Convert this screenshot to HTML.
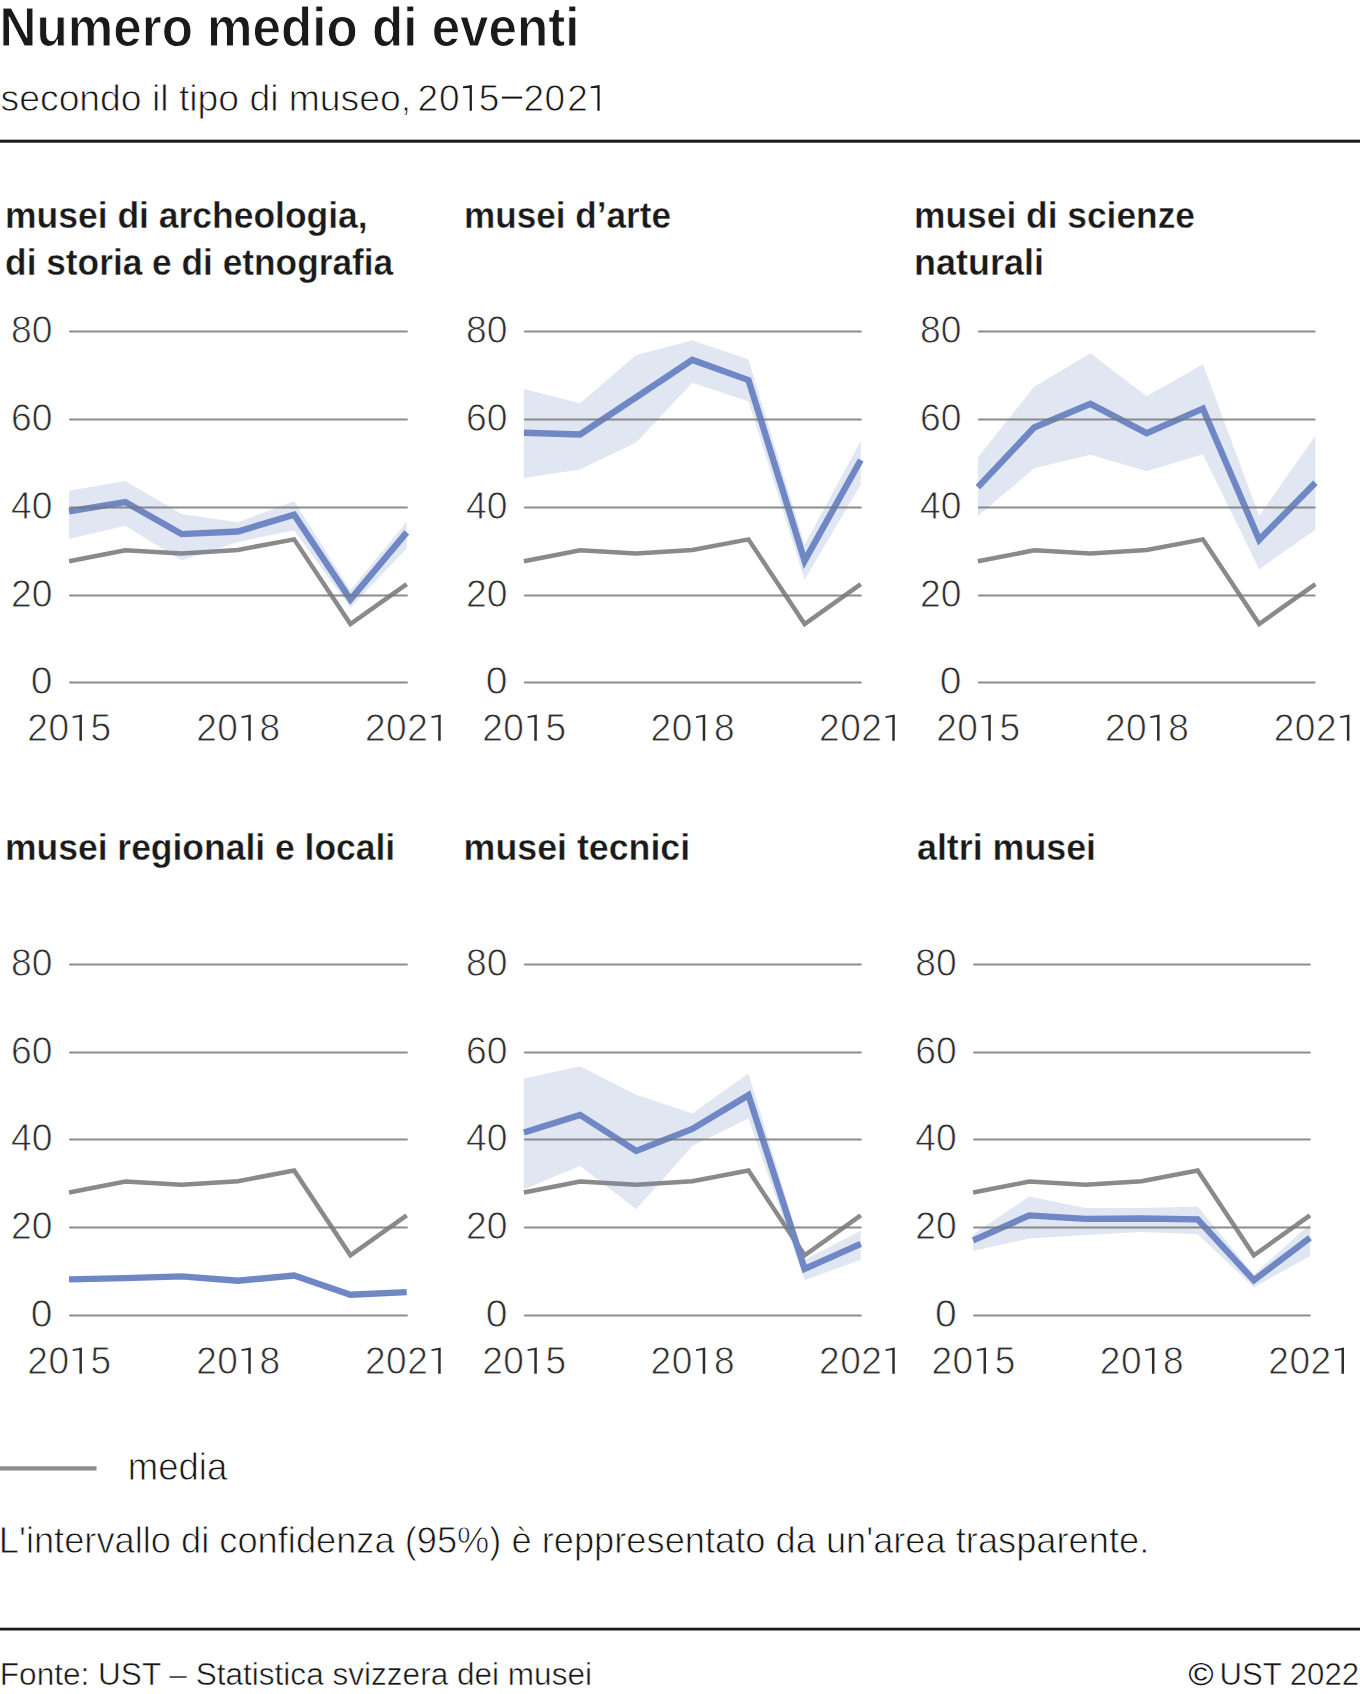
<!DOCTYPE html><html><head><meta charset="utf-8"><title>Numero medio di eventi</title>
<style>html,body{margin:0;padding:0;background:#fff;}svg{display:block;}text{font-family:"Liberation Sans",sans-serif;}</style></head><body>
<svg width="1360" height="1694" viewBox="0 0 1360 1694">
<rect width="1360" height="1694" fill="#fff"/>
<text x="-0.4" y="46.3" font-size="56.0" font-weight="bold" fill="#1a1a1a" text-anchor="start" stroke="#fff" stroke-width="1.00" textLength="579.9" lengthAdjust="spacingAndGlyphs">Numero medio di eventi</text>
<text x="0.6" y="110.6" font-size="36.0" font-weight="normal" fill="#151515" text-anchor="start" stroke="#fff" stroke-width="0.80" textLength="410.5" lengthAdjust="spacingAndGlyphs">secondo il tipo di museo,</text>
<text x="427.9" y="110.6" font-size="37.0" font-weight="normal" fill="#151515" text-anchor="middle" stroke="#fff" stroke-width="0.80">2</text>
<text x="449.4" y="110.6" font-size="37.0" font-weight="normal" fill="#151515" text-anchor="middle" stroke="#fff" stroke-width="0.80">0</text>
<text x="489.0" y="110.6" font-size="37.0" font-weight="normal" fill="#151515" text-anchor="middle" stroke="#fff" stroke-width="0.80">5</text>
<text x="533.9" y="110.6" font-size="37.0" font-weight="normal" fill="#151515" text-anchor="middle" stroke="#fff" stroke-width="0.80">2</text>
<text x="554.9" y="110.6" font-size="37.0" font-weight="normal" fill="#151515" text-anchor="middle" stroke="#fff" stroke-width="0.80">0</text>
<text x="577.6" y="110.6" font-size="37.0" font-weight="normal" fill="#151515" text-anchor="middle" stroke="#fff" stroke-width="0.80">2</text>
<rect x="501.9" y="96.6" width="20.3" height="2.0" fill="#151515"/>
<path d="M471.85 84.95 L471.85 110.85 L469.65 110.85 L469.65 87.65 L462.95 88.25 L462.95 86.55 Z" fill="#151515"/>
<path d="M599.60 84.95 L599.60 110.85 L597.40 110.85 L597.40 87.65 L590.70 88.25 L590.70 86.55 Z" fill="#151515"/>
<rect x="0" y="139.7" width="1360" height="3" fill="#1a1a1a"/>
<text x="5.1" y="227.6" font-size="36.0" font-weight="bold" fill="#1a1a1a" text-anchor="start" stroke="#fff" stroke-width="0.35" textLength="362.6" lengthAdjust="spacingAndGlyphs">musei di archeologia,</text>
<text x="5.1" y="274.7" font-size="36.0" font-weight="bold" fill="#1a1a1a" text-anchor="start" stroke="#fff" stroke-width="0.35" textLength="388.1" lengthAdjust="spacingAndGlyphs">di storia e di etnografia</text>
<text x="464.1" y="227.6" font-size="36.0" font-weight="bold" fill="#1a1a1a" text-anchor="start" stroke="#fff" stroke-width="0.35" textLength="206.9" lengthAdjust="spacingAndGlyphs">musei d’arte</text>
<text x="914.1" y="227.6" font-size="36.0" font-weight="bold" fill="#1a1a1a" text-anchor="start" stroke="#fff" stroke-width="0.35" textLength="280.9" lengthAdjust="spacingAndGlyphs">musei di scienze</text>
<text x="914.1" y="274.7" font-size="36.0" font-weight="bold" fill="#1a1a1a" text-anchor="start" stroke="#fff" stroke-width="0.35" textLength="129.9" lengthAdjust="spacingAndGlyphs">naturali</text>
<text x="5.0" y="859.8" font-size="36.0" font-weight="bold" fill="#1a1a1a" text-anchor="start" stroke="#fff" stroke-width="0.35" textLength="390.2" lengthAdjust="spacingAndGlyphs">musei regionali e locali</text>
<text x="463.6" y="859.8" font-size="36.0" font-weight="bold" fill="#1a1a1a" text-anchor="start" stroke="#fff" stroke-width="0.35" textLength="226.6" lengthAdjust="spacingAndGlyphs">musei tecnici</text>
<text x="917.0" y="859.8" font-size="36.0" font-weight="bold" fill="#1a1a1a" text-anchor="start" stroke="#fff" stroke-width="0.35" textLength="179.0" lengthAdjust="spacingAndGlyphs">altri musei</text>
<text x="52.5" y="694.3" font-size="39.0" font-weight="normal" fill="#2e2e2e" text-anchor="end" stroke="#fff" stroke-width="0.80">0</text>
<text x="52.5" y="607.3" font-size="39.0" font-weight="normal" fill="#2e2e2e" text-anchor="end" stroke="#fff" stroke-width="0.80" textLength="41.4" lengthAdjust="spacingAndGlyphs">20</text>
<text x="52.5" y="519.3" font-size="39.0" font-weight="normal" fill="#2e2e2e" text-anchor="end" stroke="#fff" stroke-width="0.80" textLength="41.4" lengthAdjust="spacingAndGlyphs">40</text>
<text x="52.5" y="431.3" font-size="39.0" font-weight="normal" fill="#2e2e2e" text-anchor="end" stroke="#fff" stroke-width="0.80" textLength="41.4" lengthAdjust="spacingAndGlyphs">60</text>
<text x="52.5" y="343.3" font-size="39.0" font-weight="normal" fill="#2e2e2e" text-anchor="end" stroke="#fff" stroke-width="0.80" textLength="41.4" lengthAdjust="spacingAndGlyphs">80</text>
<text x="37.6" y="740.8" font-size="39.0" font-weight="normal" fill="#2e2e2e" text-anchor="middle" stroke="#fff" stroke-width="0.80" textLength="20.6" lengthAdjust="spacingAndGlyphs">2</text>
<text x="58.7" y="740.8" font-size="39.0" font-weight="normal" fill="#2e2e2e" text-anchor="middle" stroke="#fff" stroke-width="0.80" textLength="20.6" lengthAdjust="spacingAndGlyphs">0</text>
<path d="M81.94 714.40 L81.94 740.80 L79.44 740.80 L79.44 716.90 L72.74 717.90 L72.74 716.20 Z" fill="#2e2e2e"/>
<text x="100.9" y="740.8" font-size="39.0" font-weight="normal" fill="#2e2e2e" text-anchor="middle" stroke="#fff" stroke-width="0.80" textLength="20.6" lengthAdjust="spacingAndGlyphs">5</text>
<text x="206.5" y="740.8" font-size="39.0" font-weight="normal" fill="#2e2e2e" text-anchor="middle" stroke="#fff" stroke-width="0.80" textLength="20.6" lengthAdjust="spacingAndGlyphs">2</text>
<text x="227.6" y="740.8" font-size="39.0" font-weight="normal" fill="#2e2e2e" text-anchor="middle" stroke="#fff" stroke-width="0.80" textLength="20.6" lengthAdjust="spacingAndGlyphs">0</text>
<path d="M250.77 714.40 L250.77 740.80 L248.27 740.80 L248.27 716.90 L241.57 717.90 L241.57 716.20 Z" fill="#2e2e2e"/>
<text x="269.8" y="740.8" font-size="39.0" font-weight="normal" fill="#2e2e2e" text-anchor="middle" stroke="#fff" stroke-width="0.80" textLength="20.6" lengthAdjust="spacingAndGlyphs">8</text>
<text x="375.3" y="740.8" font-size="39.0" font-weight="normal" fill="#2e2e2e" text-anchor="middle" stroke="#fff" stroke-width="0.80" textLength="20.6" lengthAdjust="spacingAndGlyphs">2</text>
<text x="396.4" y="740.8" font-size="39.0" font-weight="normal" fill="#2e2e2e" text-anchor="middle" stroke="#fff" stroke-width="0.80" textLength="20.6" lengthAdjust="spacingAndGlyphs">0</text>
<text x="417.5" y="740.8" font-size="39.0" font-weight="normal" fill="#2e2e2e" text-anchor="middle" stroke="#fff" stroke-width="0.80" textLength="20.6" lengthAdjust="spacingAndGlyphs">2</text>
<path d="M440.70 714.40 L440.70 740.80 L438.20 740.80 L438.20 716.90 L431.50 717.90 L431.50 716.20 Z" fill="#2e2e2e"/>
<polyline points="69.04,561.30 125.32,550.34 181.59,553.41 237.87,549.90 294.15,539.37 350.42,624.05 406.70,584.12" fill="none" stroke="#8a8a8a" stroke-width="4.5" stroke-linejoin="miter"/>
<polygon points="69.04,490.67 125.32,481.01 181.59,513.92 237.87,522.26 294.15,501.20 350.42,590.26 406.70,521.82 406.70,548.58 350.42,607.81 294.15,530.15 237.87,542.00 181.59,560.43 125.32,525.77 69.04,538.93" fill="#6f87c5" fill-opacity="0.21"/>
<polyline points="69.04,511.29 125.32,502.07 181.59,534.10 237.87,531.47 294.15,514.80 350.42,599.48 406.70,532.35" fill="none" stroke="#6f87c5" stroke-width="6.4" stroke-linejoin="miter"/>
<line x1="70.04" y1="682.50" x2="406.90" y2="682.50" stroke="#787878" stroke-opacity="0.85" stroke-width="2" stroke-linecap="round"/>
<line x1="70.04" y1="595.50" x2="406.90" y2="595.50" stroke="#787878" stroke-opacity="0.85" stroke-width="2" stroke-linecap="round"/>
<line x1="70.04" y1="507.50" x2="406.90" y2="507.50" stroke="#787878" stroke-opacity="0.85" stroke-width="2" stroke-linecap="round"/>
<line x1="70.04" y1="419.50" x2="406.90" y2="419.50" stroke="#787878" stroke-opacity="0.85" stroke-width="2" stroke-linecap="round"/>
<line x1="70.04" y1="331.50" x2="406.90" y2="331.50" stroke="#787878" stroke-opacity="0.85" stroke-width="2" stroke-linecap="round"/>
<text x="507.4" y="694.3" font-size="39.0" font-weight="normal" fill="#2e2e2e" text-anchor="end" stroke="#fff" stroke-width="0.80">0</text>
<text x="507.4" y="607.3" font-size="39.0" font-weight="normal" fill="#2e2e2e" text-anchor="end" stroke="#fff" stroke-width="0.80" textLength="41.4" lengthAdjust="spacingAndGlyphs">20</text>
<text x="507.4" y="519.3" font-size="39.0" font-weight="normal" fill="#2e2e2e" text-anchor="end" stroke="#fff" stroke-width="0.80" textLength="41.4" lengthAdjust="spacingAndGlyphs">40</text>
<text x="507.4" y="431.3" font-size="39.0" font-weight="normal" fill="#2e2e2e" text-anchor="end" stroke="#fff" stroke-width="0.80" textLength="41.4" lengthAdjust="spacingAndGlyphs">60</text>
<text x="507.4" y="343.3" font-size="39.0" font-weight="normal" fill="#2e2e2e" text-anchor="end" stroke="#fff" stroke-width="0.80" textLength="41.4" lengthAdjust="spacingAndGlyphs">80</text>
<text x="492.5" y="740.8" font-size="39.0" font-weight="normal" fill="#2e2e2e" text-anchor="middle" stroke="#fff" stroke-width="0.80" textLength="20.6" lengthAdjust="spacingAndGlyphs">2</text>
<text x="513.6" y="740.8" font-size="39.0" font-weight="normal" fill="#2e2e2e" text-anchor="middle" stroke="#fff" stroke-width="0.80" textLength="20.6" lengthAdjust="spacingAndGlyphs">0</text>
<path d="M536.80 714.40 L536.80 740.80 L534.30 740.80 L534.30 716.90 L527.60 717.90 L527.60 716.20 Z" fill="#2e2e2e"/>
<text x="555.8" y="740.8" font-size="39.0" font-weight="normal" fill="#2e2e2e" text-anchor="middle" stroke="#fff" stroke-width="0.80" textLength="20.6" lengthAdjust="spacingAndGlyphs">5</text>
<text x="660.9" y="740.8" font-size="39.0" font-weight="normal" fill="#2e2e2e" text-anchor="middle" stroke="#fff" stroke-width="0.80" textLength="20.6" lengthAdjust="spacingAndGlyphs">2</text>
<text x="682.0" y="740.8" font-size="39.0" font-weight="normal" fill="#2e2e2e" text-anchor="middle" stroke="#fff" stroke-width="0.80" textLength="20.6" lengthAdjust="spacingAndGlyphs">0</text>
<path d="M705.24 714.40 L705.24 740.80 L702.74 740.80 L702.74 716.90 L696.03 717.90 L696.03 716.20 Z" fill="#2e2e2e"/>
<text x="724.2" y="740.8" font-size="39.0" font-weight="normal" fill="#2e2e2e" text-anchor="middle" stroke="#fff" stroke-width="0.80" textLength="20.6" lengthAdjust="spacingAndGlyphs">8</text>
<text x="829.4" y="740.8" font-size="39.0" font-weight="normal" fill="#2e2e2e" text-anchor="middle" stroke="#fff" stroke-width="0.80" textLength="20.6" lengthAdjust="spacingAndGlyphs">2</text>
<text x="850.5" y="740.8" font-size="39.0" font-weight="normal" fill="#2e2e2e" text-anchor="middle" stroke="#fff" stroke-width="0.80" textLength="20.6" lengthAdjust="spacingAndGlyphs">0</text>
<text x="871.6" y="740.8" font-size="39.0" font-weight="normal" fill="#2e2e2e" text-anchor="middle" stroke="#fff" stroke-width="0.80" textLength="20.6" lengthAdjust="spacingAndGlyphs">2</text>
<path d="M894.77 714.40 L894.77 740.80 L892.27 740.80 L892.27 716.90 L885.57 717.90 L885.57 716.20 Z" fill="#2e2e2e"/>
<polyline points="523.90,561.30 580.04,550.34 636.19,553.41 692.34,549.90 748.48,539.37 804.62,624.05 860.77,584.12" fill="none" stroke="#8a8a8a" stroke-width="4.5" stroke-linejoin="miter"/>
<polygon points="523.90,388.88 580.04,403.35 636.19,355.09 692.34,340.17 748.48,359.48 804.62,544.63 860.77,441.09 860.77,484.52 804.62,579.73 748.48,401.16 692.34,382.73 636.19,442.40 580.04,469.61 523.90,477.94" fill="#6f87c5" fill-opacity="0.21"/>
<polyline points="523.90,432.75 580.04,434.51 636.19,397.21 692.34,359.92 748.48,380.10 804.62,560.87 860.77,459.95" fill="none" stroke="#6f87c5" stroke-width="6.4" stroke-linejoin="miter"/>
<line x1="524.90" y1="682.50" x2="860.84" y2="682.50" stroke="#787878" stroke-opacity="0.85" stroke-width="2" stroke-linecap="round"/>
<line x1="524.90" y1="595.50" x2="860.84" y2="595.50" stroke="#787878" stroke-opacity="0.85" stroke-width="2" stroke-linecap="round"/>
<line x1="524.90" y1="507.50" x2="860.84" y2="507.50" stroke="#787878" stroke-opacity="0.85" stroke-width="2" stroke-linecap="round"/>
<line x1="524.90" y1="419.50" x2="860.84" y2="419.50" stroke="#787878" stroke-opacity="0.85" stroke-width="2" stroke-linecap="round"/>
<line x1="524.90" y1="331.50" x2="860.84" y2="331.50" stroke="#787878" stroke-opacity="0.85" stroke-width="2" stroke-linecap="round"/>
<text x="961.4" y="694.3" font-size="39.0" font-weight="normal" fill="#2e2e2e" text-anchor="end" stroke="#fff" stroke-width="0.80">0</text>
<text x="961.4" y="607.3" font-size="39.0" font-weight="normal" fill="#2e2e2e" text-anchor="end" stroke="#fff" stroke-width="0.80" textLength="41.4" lengthAdjust="spacingAndGlyphs">20</text>
<text x="961.4" y="519.3" font-size="39.0" font-weight="normal" fill="#2e2e2e" text-anchor="end" stroke="#fff" stroke-width="0.80" textLength="41.4" lengthAdjust="spacingAndGlyphs">40</text>
<text x="961.4" y="431.3" font-size="39.0" font-weight="normal" fill="#2e2e2e" text-anchor="end" stroke="#fff" stroke-width="0.80" textLength="41.4" lengthAdjust="spacingAndGlyphs">60</text>
<text x="961.4" y="343.3" font-size="39.0" font-weight="normal" fill="#2e2e2e" text-anchor="end" stroke="#fff" stroke-width="0.80" textLength="41.4" lengthAdjust="spacingAndGlyphs">80</text>
<text x="946.5" y="740.8" font-size="39.0" font-weight="normal" fill="#2e2e2e" text-anchor="middle" stroke="#fff" stroke-width="0.80" textLength="20.6" lengthAdjust="spacingAndGlyphs">2</text>
<text x="967.6" y="740.8" font-size="39.0" font-weight="normal" fill="#2e2e2e" text-anchor="middle" stroke="#fff" stroke-width="0.80" textLength="20.6" lengthAdjust="spacingAndGlyphs">0</text>
<path d="M990.80 714.40 L990.80 740.80 L988.30 740.80 L988.30 716.90 L981.60 717.90 L981.60 716.20 Z" fill="#2e2e2e"/>
<text x="1009.8" y="740.8" font-size="39.0" font-weight="normal" fill="#2e2e2e" text-anchor="middle" stroke="#fff" stroke-width="0.80" textLength="20.6" lengthAdjust="spacingAndGlyphs">5</text>
<text x="1115.2" y="740.8" font-size="39.0" font-weight="normal" fill="#2e2e2e" text-anchor="middle" stroke="#fff" stroke-width="0.80" textLength="20.6" lengthAdjust="spacingAndGlyphs">2</text>
<text x="1136.3" y="740.8" font-size="39.0" font-weight="normal" fill="#2e2e2e" text-anchor="middle" stroke="#fff" stroke-width="0.80" textLength="20.6" lengthAdjust="spacingAndGlyphs">0</text>
<path d="M1159.55 714.40 L1159.55 740.80 L1157.05 740.80 L1157.05 716.90 L1150.35 717.90 L1150.35 716.20 Z" fill="#2e2e2e"/>
<text x="1178.5" y="740.8" font-size="39.0" font-weight="normal" fill="#2e2e2e" text-anchor="middle" stroke="#fff" stroke-width="0.80" textLength="20.6" lengthAdjust="spacingAndGlyphs">8</text>
<text x="1284.0" y="740.8" font-size="39.0" font-weight="normal" fill="#2e2e2e" text-anchor="middle" stroke="#fff" stroke-width="0.80" textLength="20.6" lengthAdjust="spacingAndGlyphs">2</text>
<text x="1305.1" y="740.8" font-size="39.0" font-weight="normal" fill="#2e2e2e" text-anchor="middle" stroke="#fff" stroke-width="0.80" textLength="20.6" lengthAdjust="spacingAndGlyphs">0</text>
<text x="1326.2" y="740.8" font-size="39.0" font-weight="normal" fill="#2e2e2e" text-anchor="middle" stroke="#fff" stroke-width="0.80" textLength="20.6" lengthAdjust="spacingAndGlyphs">2</text>
<path d="M1349.40 714.40 L1349.40 740.80 L1346.90 740.80 L1346.90 716.90 L1340.20 717.90 L1340.20 716.20 Z" fill="#2e2e2e"/>
<polyline points="977.90,561.30 1034.15,550.34 1090.40,553.41 1146.65,549.90 1202.90,539.37 1259.15,624.05 1315.40,584.12" fill="none" stroke="#8a8a8a" stroke-width="4.5" stroke-linejoin="miter"/>
<polygon points="977.90,457.32 1034.15,386.68 1090.40,353.34 1146.65,396.33 1202.90,364.31 1259.15,515.67 1315.40,435.82 1315.40,529.71 1259.15,569.20 1202.90,454.25 1146.65,471.36 1090.40,454.69 1034.15,468.29 977.90,516.11" fill="#6f87c5" fill-opacity="0.21"/>
<polyline points="977.90,487.16 1034.15,427.49 1090.40,403.79 1146.65,433.19 1202.90,408.62 1259.15,539.81 1315.40,482.77" fill="none" stroke="#6f87c5" stroke-width="6.4" stroke-linejoin="miter"/>
<line x1="978.90" y1="682.50" x2="1314.70" y2="682.50" stroke="#787878" stroke-opacity="0.85" stroke-width="2" stroke-linecap="round"/>
<line x1="978.90" y1="595.50" x2="1314.70" y2="595.50" stroke="#787878" stroke-opacity="0.85" stroke-width="2" stroke-linecap="round"/>
<line x1="978.90" y1="507.50" x2="1314.70" y2="507.50" stroke="#787878" stroke-opacity="0.85" stroke-width="2" stroke-linecap="round"/>
<line x1="978.90" y1="419.50" x2="1314.70" y2="419.50" stroke="#787878" stroke-opacity="0.85" stroke-width="2" stroke-linecap="round"/>
<line x1="978.90" y1="331.50" x2="1314.70" y2="331.50" stroke="#787878" stroke-opacity="0.85" stroke-width="2" stroke-linecap="round"/>
<text x="52.5" y="1327.3" font-size="39.0" font-weight="normal" fill="#2e2e2e" text-anchor="end" stroke="#fff" stroke-width="0.80">0</text>
<text x="52.5" y="1239.3" font-size="39.0" font-weight="normal" fill="#2e2e2e" text-anchor="end" stroke="#fff" stroke-width="0.80" textLength="41.4" lengthAdjust="spacingAndGlyphs">20</text>
<text x="52.5" y="1151.3" font-size="39.0" font-weight="normal" fill="#2e2e2e" text-anchor="end" stroke="#fff" stroke-width="0.80" textLength="41.4" lengthAdjust="spacingAndGlyphs">40</text>
<text x="52.5" y="1064.3" font-size="39.0" font-weight="normal" fill="#2e2e2e" text-anchor="end" stroke="#fff" stroke-width="0.80" textLength="41.4" lengthAdjust="spacingAndGlyphs">60</text>
<text x="52.5" y="976.3" font-size="39.0" font-weight="normal" fill="#2e2e2e" text-anchor="end" stroke="#fff" stroke-width="0.80" textLength="41.4" lengthAdjust="spacingAndGlyphs">80</text>
<text x="37.6" y="1373.8" font-size="39.0" font-weight="normal" fill="#2e2e2e" text-anchor="middle" stroke="#fff" stroke-width="0.80" textLength="20.6" lengthAdjust="spacingAndGlyphs">2</text>
<text x="58.7" y="1373.8" font-size="39.0" font-weight="normal" fill="#2e2e2e" text-anchor="middle" stroke="#fff" stroke-width="0.80" textLength="20.6" lengthAdjust="spacingAndGlyphs">0</text>
<path d="M81.94 1347.40 L81.94 1373.80 L79.44 1373.80 L79.44 1349.90 L72.74 1350.90 L72.74 1349.20 Z" fill="#2e2e2e"/>
<text x="100.9" y="1373.8" font-size="39.0" font-weight="normal" fill="#2e2e2e" text-anchor="middle" stroke="#fff" stroke-width="0.80" textLength="20.6" lengthAdjust="spacingAndGlyphs">5</text>
<text x="206.5" y="1373.8" font-size="39.0" font-weight="normal" fill="#2e2e2e" text-anchor="middle" stroke="#fff" stroke-width="0.80" textLength="20.6" lengthAdjust="spacingAndGlyphs">2</text>
<text x="227.6" y="1373.8" font-size="39.0" font-weight="normal" fill="#2e2e2e" text-anchor="middle" stroke="#fff" stroke-width="0.80" textLength="20.6" lengthAdjust="spacingAndGlyphs">0</text>
<path d="M250.77 1347.40 L250.77 1373.80 L248.27 1373.80 L248.27 1349.90 L241.57 1350.90 L241.57 1349.20 Z" fill="#2e2e2e"/>
<text x="269.8" y="1373.8" font-size="39.0" font-weight="normal" fill="#2e2e2e" text-anchor="middle" stroke="#fff" stroke-width="0.80" textLength="20.6" lengthAdjust="spacingAndGlyphs">8</text>
<text x="375.3" y="1373.8" font-size="39.0" font-weight="normal" fill="#2e2e2e" text-anchor="middle" stroke="#fff" stroke-width="0.80" textLength="20.6" lengthAdjust="spacingAndGlyphs">2</text>
<text x="396.4" y="1373.8" font-size="39.0" font-weight="normal" fill="#2e2e2e" text-anchor="middle" stroke="#fff" stroke-width="0.80" textLength="20.6" lengthAdjust="spacingAndGlyphs">0</text>
<text x="417.5" y="1373.8" font-size="39.0" font-weight="normal" fill="#2e2e2e" text-anchor="middle" stroke="#fff" stroke-width="0.80" textLength="20.6" lengthAdjust="spacingAndGlyphs">2</text>
<path d="M440.70 1347.40 L440.70 1373.80 L438.20 1373.80 L438.20 1349.90 L431.50 1350.90 L431.50 1349.20 Z" fill="#2e2e2e"/>
<polyline points="69.04,1192.55 125.32,1181.58 181.59,1184.65 237.87,1181.14 294.15,1170.61 350.42,1255.29 406.70,1215.37" fill="none" stroke="#8a8a8a" stroke-width="4.5" stroke-linejoin="miter"/>
<polyline points="69.04,1279.42 125.32,1278.11 181.59,1276.35 237.87,1280.74 294.15,1275.47 350.42,1294.78 406.70,1292.15" fill="none" stroke="#6f87c5" stroke-width="6.4" stroke-linejoin="miter"/>
<line x1="70.04" y1="1315.50" x2="406.90" y2="1315.50" stroke="#787878" stroke-opacity="0.85" stroke-width="2" stroke-linecap="round"/>
<line x1="70.04" y1="1227.50" x2="406.90" y2="1227.50" stroke="#787878" stroke-opacity="0.85" stroke-width="2" stroke-linecap="round"/>
<line x1="70.04" y1="1139.50" x2="406.90" y2="1139.50" stroke="#787878" stroke-opacity="0.85" stroke-width="2" stroke-linecap="round"/>
<line x1="70.04" y1="1052.50" x2="406.90" y2="1052.50" stroke="#787878" stroke-opacity="0.85" stroke-width="2" stroke-linecap="round"/>
<line x1="70.04" y1="964.50" x2="406.90" y2="964.50" stroke="#787878" stroke-opacity="0.85" stroke-width="2" stroke-linecap="round"/>
<text x="507.4" y="1327.3" font-size="39.0" font-weight="normal" fill="#2e2e2e" text-anchor="end" stroke="#fff" stroke-width="0.80">0</text>
<text x="507.4" y="1239.3" font-size="39.0" font-weight="normal" fill="#2e2e2e" text-anchor="end" stroke="#fff" stroke-width="0.80" textLength="41.4" lengthAdjust="spacingAndGlyphs">20</text>
<text x="507.4" y="1151.3" font-size="39.0" font-weight="normal" fill="#2e2e2e" text-anchor="end" stroke="#fff" stroke-width="0.80" textLength="41.4" lengthAdjust="spacingAndGlyphs">40</text>
<text x="507.4" y="1064.3" font-size="39.0" font-weight="normal" fill="#2e2e2e" text-anchor="end" stroke="#fff" stroke-width="0.80" textLength="41.4" lengthAdjust="spacingAndGlyphs">60</text>
<text x="507.4" y="976.3" font-size="39.0" font-weight="normal" fill="#2e2e2e" text-anchor="end" stroke="#fff" stroke-width="0.80" textLength="41.4" lengthAdjust="spacingAndGlyphs">80</text>
<text x="492.5" y="1373.8" font-size="39.0" font-weight="normal" fill="#2e2e2e" text-anchor="middle" stroke="#fff" stroke-width="0.80" textLength="20.6" lengthAdjust="spacingAndGlyphs">2</text>
<text x="513.6" y="1373.8" font-size="39.0" font-weight="normal" fill="#2e2e2e" text-anchor="middle" stroke="#fff" stroke-width="0.80" textLength="20.6" lengthAdjust="spacingAndGlyphs">0</text>
<path d="M536.80 1347.40 L536.80 1373.80 L534.30 1373.80 L534.30 1349.90 L527.60 1350.90 L527.60 1349.20 Z" fill="#2e2e2e"/>
<text x="555.8" y="1373.8" font-size="39.0" font-weight="normal" fill="#2e2e2e" text-anchor="middle" stroke="#fff" stroke-width="0.80" textLength="20.6" lengthAdjust="spacingAndGlyphs">5</text>
<text x="660.9" y="1373.8" font-size="39.0" font-weight="normal" fill="#2e2e2e" text-anchor="middle" stroke="#fff" stroke-width="0.80" textLength="20.6" lengthAdjust="spacingAndGlyphs">2</text>
<text x="682.0" y="1373.8" font-size="39.0" font-weight="normal" fill="#2e2e2e" text-anchor="middle" stroke="#fff" stroke-width="0.80" textLength="20.6" lengthAdjust="spacingAndGlyphs">0</text>
<path d="M705.24 1347.40 L705.24 1373.80 L702.74 1373.80 L702.74 1349.90 L696.03 1350.90 L696.03 1349.20 Z" fill="#2e2e2e"/>
<text x="724.2" y="1373.8" font-size="39.0" font-weight="normal" fill="#2e2e2e" text-anchor="middle" stroke="#fff" stroke-width="0.80" textLength="20.6" lengthAdjust="spacingAndGlyphs">8</text>
<text x="829.4" y="1373.8" font-size="39.0" font-weight="normal" fill="#2e2e2e" text-anchor="middle" stroke="#fff" stroke-width="0.80" textLength="20.6" lengthAdjust="spacingAndGlyphs">2</text>
<text x="850.5" y="1373.8" font-size="39.0" font-weight="normal" fill="#2e2e2e" text-anchor="middle" stroke="#fff" stroke-width="0.80" textLength="20.6" lengthAdjust="spacingAndGlyphs">0</text>
<text x="871.6" y="1373.8" font-size="39.0" font-weight="normal" fill="#2e2e2e" text-anchor="middle" stroke="#fff" stroke-width="0.80" textLength="20.6" lengthAdjust="spacingAndGlyphs">2</text>
<path d="M894.77 1347.40 L894.77 1373.80 L892.27 1373.80 L892.27 1349.90 L885.57 1350.90 L885.57 1349.20 Z" fill="#2e2e2e"/>
<polyline points="523.90,1192.55 580.04,1181.58 636.19,1184.65 692.34,1181.14 748.48,1170.61 804.62,1255.29 860.77,1215.37" fill="none" stroke="#8a8a8a" stroke-width="4.5" stroke-linejoin="miter"/>
<polygon points="523.90,1078.48 580.04,1066.19 636.19,1094.71 692.34,1113.58 748.48,1073.21 804.62,1259.68 860.77,1230.72 860.77,1259.68 804.62,1280.30 748.48,1118.40 692.34,1146.04 636.19,1209.22 580.04,1165.79 523.90,1189.48" fill="#6f87c5" fill-opacity="0.21"/>
<polyline points="523.90,1132.44 580.04,1114.89 636.19,1150.87 692.34,1128.93 748.48,1095.15 804.62,1268.89 860.77,1243.88" fill="none" stroke="#6f87c5" stroke-width="6.4" stroke-linejoin="miter"/>
<line x1="524.90" y1="1315.50" x2="860.84" y2="1315.50" stroke="#787878" stroke-opacity="0.85" stroke-width="2" stroke-linecap="round"/>
<line x1="524.90" y1="1227.50" x2="860.84" y2="1227.50" stroke="#787878" stroke-opacity="0.85" stroke-width="2" stroke-linecap="round"/>
<line x1="524.90" y1="1139.50" x2="860.84" y2="1139.50" stroke="#787878" stroke-opacity="0.85" stroke-width="2" stroke-linecap="round"/>
<line x1="524.90" y1="1052.50" x2="860.84" y2="1052.50" stroke="#787878" stroke-opacity="0.85" stroke-width="2" stroke-linecap="round"/>
<line x1="524.90" y1="964.50" x2="860.84" y2="964.50" stroke="#787878" stroke-opacity="0.85" stroke-width="2" stroke-linecap="round"/>
<text x="956.6" y="1327.3" font-size="39.0" font-weight="normal" fill="#2e2e2e" text-anchor="end" stroke="#fff" stroke-width="0.80">0</text>
<text x="956.6" y="1239.3" font-size="39.0" font-weight="normal" fill="#2e2e2e" text-anchor="end" stroke="#fff" stroke-width="0.80" textLength="41.4" lengthAdjust="spacingAndGlyphs">20</text>
<text x="956.6" y="1151.3" font-size="39.0" font-weight="normal" fill="#2e2e2e" text-anchor="end" stroke="#fff" stroke-width="0.80" textLength="41.4" lengthAdjust="spacingAndGlyphs">40</text>
<text x="956.6" y="1064.3" font-size="39.0" font-weight="normal" fill="#2e2e2e" text-anchor="end" stroke="#fff" stroke-width="0.80" textLength="41.4" lengthAdjust="spacingAndGlyphs">60</text>
<text x="956.6" y="976.3" font-size="39.0" font-weight="normal" fill="#2e2e2e" text-anchor="end" stroke="#fff" stroke-width="0.80" textLength="41.4" lengthAdjust="spacingAndGlyphs">80</text>
<text x="941.7" y="1373.8" font-size="39.0" font-weight="normal" fill="#2e2e2e" text-anchor="middle" stroke="#fff" stroke-width="0.80" textLength="20.6" lengthAdjust="spacingAndGlyphs">2</text>
<text x="962.8" y="1373.8" font-size="39.0" font-weight="normal" fill="#2e2e2e" text-anchor="middle" stroke="#fff" stroke-width="0.80" textLength="20.6" lengthAdjust="spacingAndGlyphs">0</text>
<path d="M986.00 1347.40 L986.00 1373.80 L983.50 1373.80 L983.50 1349.90 L976.80 1350.90 L976.80 1349.20 Z" fill="#2e2e2e"/>
<text x="1005.0" y="1373.8" font-size="39.0" font-weight="normal" fill="#2e2e2e" text-anchor="middle" stroke="#fff" stroke-width="0.80" textLength="20.6" lengthAdjust="spacingAndGlyphs">5</text>
<text x="1110.1" y="1373.8" font-size="39.0" font-weight="normal" fill="#2e2e2e" text-anchor="middle" stroke="#fff" stroke-width="0.80" textLength="20.6" lengthAdjust="spacingAndGlyphs">2</text>
<text x="1131.2" y="1373.8" font-size="39.0" font-weight="normal" fill="#2e2e2e" text-anchor="middle" stroke="#fff" stroke-width="0.80" textLength="20.6" lengthAdjust="spacingAndGlyphs">0</text>
<path d="M1154.45 1347.40 L1154.45 1373.80 L1151.95 1373.80 L1151.95 1349.90 L1145.25 1350.90 L1145.25 1349.20 Z" fill="#2e2e2e"/>
<text x="1173.4" y="1373.8" font-size="39.0" font-weight="normal" fill="#2e2e2e" text-anchor="middle" stroke="#fff" stroke-width="0.80" textLength="20.6" lengthAdjust="spacingAndGlyphs">8</text>
<text x="1278.6" y="1373.8" font-size="39.0" font-weight="normal" fill="#2e2e2e" text-anchor="middle" stroke="#fff" stroke-width="0.80" textLength="20.6" lengthAdjust="spacingAndGlyphs">2</text>
<text x="1299.7" y="1373.8" font-size="39.0" font-weight="normal" fill="#2e2e2e" text-anchor="middle" stroke="#fff" stroke-width="0.80" textLength="20.6" lengthAdjust="spacingAndGlyphs">0</text>
<text x="1320.8" y="1373.8" font-size="39.0" font-weight="normal" fill="#2e2e2e" text-anchor="middle" stroke="#fff" stroke-width="0.80" textLength="20.6" lengthAdjust="spacingAndGlyphs">2</text>
<path d="M1344.00 1347.40 L1344.00 1373.80 L1341.50 1373.80 L1341.50 1349.90 L1334.80 1350.90 L1334.80 1349.20 Z" fill="#2e2e2e"/>
<polyline points="973.10,1192.55 1029.25,1181.58 1085.40,1184.65 1141.55,1181.14 1197.70,1170.61 1253.85,1255.29 1310.00,1215.37" fill="none" stroke="#8a8a8a" stroke-width="4.5" stroke-linejoin="miter"/>
<polygon points="973.10,1234.23 1029.25,1196.50 1085.40,1207.91 1141.55,1207.91 1197.70,1206.59 1253.85,1274.60 1310.00,1223.70 1310.00,1256.17 1253.85,1287.32 1197.70,1234.23 1141.55,1232.04 1085.40,1235.11 1029.25,1238.62 973.10,1250.90" fill="#6f87c5" fill-opacity="0.21"/>
<polyline points="973.10,1240.37 1029.25,1215.37 1085.40,1218.88 1141.55,1218.44 1197.70,1219.31 1253.85,1280.30 1310.00,1237.74" fill="none" stroke="#6f87c5" stroke-width="6.4" stroke-linejoin="miter"/>
<line x1="974.10" y1="1315.50" x2="1309.80" y2="1315.50" stroke="#787878" stroke-opacity="0.85" stroke-width="2" stroke-linecap="round"/>
<line x1="974.10" y1="1227.50" x2="1309.80" y2="1227.50" stroke="#787878" stroke-opacity="0.85" stroke-width="2" stroke-linecap="round"/>
<line x1="974.10" y1="1139.50" x2="1309.80" y2="1139.50" stroke="#787878" stroke-opacity="0.85" stroke-width="2" stroke-linecap="round"/>
<line x1="974.10" y1="1052.50" x2="1309.80" y2="1052.50" stroke="#787878" stroke-opacity="0.85" stroke-width="2" stroke-linecap="round"/>
<line x1="974.10" y1="964.50" x2="1309.80" y2="964.50" stroke="#787878" stroke-opacity="0.85" stroke-width="2" stroke-linecap="round"/>
<rect x="0" y="1466.3" width="96.5" height="4.2" fill="#8c8c8c"/>
<text x="127.8" y="1479.6" font-size="38.0" font-weight="normal" fill="#151515" text-anchor="start" stroke="#fff" stroke-width="0.80" textLength="99.4" lengthAdjust="spacingAndGlyphs">media</text>
<text x="-1.2" y="1552.5" font-size="37.0" font-weight="normal" fill="#151515" text-anchor="start" stroke="#fff" stroke-width="0.80" textLength="1150.4" lengthAdjust="spacingAndGlyphs">L'intervallo di confidenza (95%) è reppresentato da un'area trasparente.</text>
<rect x="0" y="1627.7" width="1360" height="2.8" fill="#1a1a1a"/>
<text x="-0.2" y="1685.3" font-size="31.0" font-weight="normal" fill="#151515" text-anchor="start" stroke="#fff" stroke-width="0.50" textLength="592.2" lengthAdjust="spacingAndGlyphs">Fonte: UST – Statistica svizzera dei musei</text>
<text x="1359.0" y="1685.4" font-size="31.0" font-weight="normal" fill="#151515" text-anchor="end" stroke="#fff" stroke-width="0.50" textLength="139.5" lengthAdjust="spacingAndGlyphs">UST 2022</text>
<text x="1188.5" y="1685.4" font-size="31.0" font-weight="normal" fill="#151515" text-anchor="start" textLength="25.0" lengthAdjust="spacingAndGlyphs">©</text>
</svg></body></html>
